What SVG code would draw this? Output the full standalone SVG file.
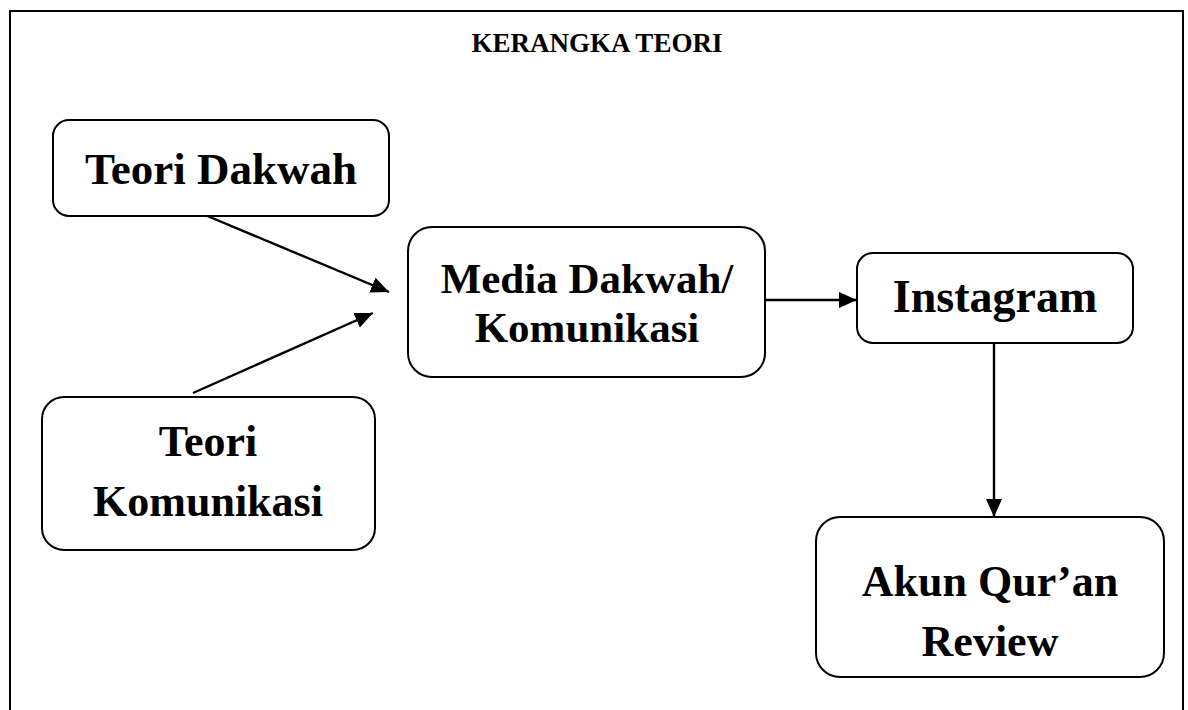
<svg xmlns="http://www.w3.org/2000/svg" width="1188" height="710" viewBox="0 0 1188 710">
  <style>
    .box { fill: #ffffff; stroke: #000000; stroke-width: 2; }
    .lbl { font-family: "Liberation Serif", "Times New Roman", serif; font-weight: bold; fill: #000000; text-anchor: middle; }
    .conn { stroke: #000000; stroke-width: 2.4; fill: none; marker-end: url(#arrow); }
  </style>
  <defs>
    <marker id="arrow" markerUnits="userSpaceOnUse" markerWidth="20" markerHeight="16" refX="18" refY="8" orient="auto">
      <path d="M0,0 L18,8 L0,16 Z" fill="#000000"/>
    </marker>
  </defs>
  <rect x="0" y="0" width="1188" height="710" fill="#ffffff"/>
  <path d="M10,715 V11 H1183 V715" fill="none" stroke="#000000" stroke-width="2"/>
  <text class="lbl" x="597" y="52" font-size="27">KERANGKA TEORI</text>

  <g id="connectors">
    <line class="conn" x1="205" y1="215" x2="389" y2="292"/>
    <line class="conn" x1="193" y1="393" x2="373" y2="313"/>
    <line class="conn" x1="765" y1="300" x2="857" y2="300"/>
    <line class="conn" x1="994" y1="343" x2="994" y2="517"/>
  </g>

  <g id="teori-dakwah">
    <rect class="box" x="53" y="120" width="336" height="96" rx="16"/>
    <text class="lbl" x="221" y="184" font-size="45">Teori Dakwah</text>
  </g>
  <g id="teori-komunikasi">
    <rect class="box" x="42" y="397" width="333" height="153" rx="22"/>
    <text class="lbl" x="208" y="456" font-size="44">Teori</text>
    <text class="lbl" x="208" y="516" font-size="44">Komunikasi</text>
  </g>
  <g id="media-dakwah">
    <rect class="box" x="408" y="227" width="357" height="150" rx="24"/>
    <text class="lbl" x="587" y="293" font-size="43">Media Dakwah/</text>
    <text class="lbl" x="587" y="342" font-size="43">Komunikasi</text>
  </g>
  <g id="instagram">
    <rect class="box" x="857" y="253" width="276" height="90" rx="16"/>
    <text class="lbl" x="995" y="312" font-size="46">Instagram</text>
  </g>
  <g id="akun-quran-review">
    <rect class="box" x="816" y="517" width="348" height="160" rx="24"/>
    <text class="lbl" x="990" y="596" font-size="44">Akun Qur’an</text>
    <text class="lbl" x="990" y="656" font-size="44">Review</text>
  </g>
</svg>
